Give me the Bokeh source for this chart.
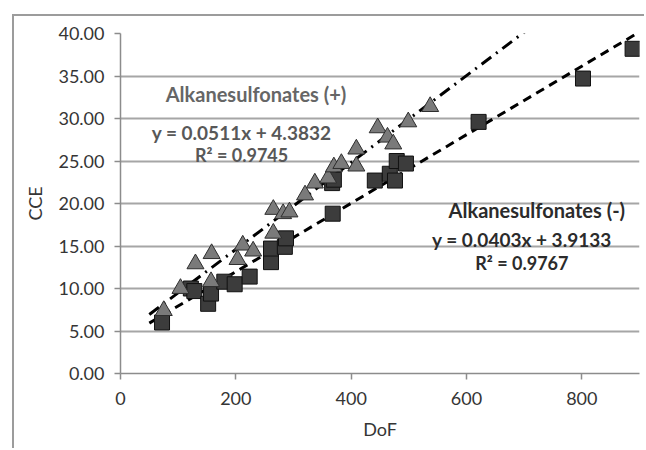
from bokeh.plotting import figure
from bokeh.models import Range1d, FixedTicker, NumeralTickFormatter, ColumnDataSource
from bokeh.core.properties import value
from bokeh.embed import file_html
from bokeh.resources import INLINE

# ---- data ----
pos_dof = [75, 104, 130, 158, 157, 203, 212, 230, 265, 265, 282, 293, 320, 337,
           360, 370, 383, 409, 409, 446, 463, 473, 499, 537]
pos_cce = [7.4, 10.0, 12.9, 14.1, 10.8, 13.4, 15.1, 14.4, 16.5, 19.3, 18.8, 19.0,
           21.0, 22.4, 23.0, 24.3, 24.7, 26.4, 24.4, 28.9, 27.8, 27.0, 29.6, 31.4]

neg_dof = [72, 122, 128, 152, 157, 180, 198, 224, 261, 261, 285, 287, 368, 367,
           370, 441, 467, 476, 479, 495, 621, 802, 888]
neg_cce = [6.0, 10.0, 9.7, 8.2, 9.4, 10.8, 10.5, 11.4, 13.1, 14.7, 14.9, 15.9,
           18.8, 22.4, 22.8, 22.7, 23.5, 22.7, 25.0, 24.7, 29.6, 34.7, 38.2]

# trendline coefficients (from the equations shown on the chart)
pos_slope, pos_intercept = 0.0511, 4.3832
neg_slope, neg_intercept = 0.0403, 3.9133
trend_x = [50, 900]

x_ticks = [0, 200, 400, 600, 800]
y_ticks = [0, 5, 10, 15, 20, 25, 30, 35, 40]

labels = ["Alkanesulfonates (+)", "y = 0.0511x + 4.3832", "R\u00b2 = 0.9745",
          "Alkanesulfonates (-)", "y = 0.0403x + 3.9133", "R\u00b2 = 0.9767"]

FONT = "Lato"

p = figure(width=632, height=434, output_backend="svg", toolbar_location=None,
           x_range=Range1d(0, 900), y_range=Range1d(0, 40),
           min_border_left=106, min_border_right=7, min_border_top=17,
           min_border_bottom=77, background_fill_color="white",
           border_fill_color="white")
p.margin = (14, 0, 0, 12)
p.styles = {"border-left": "2px solid #9c9c9c", "border-top": "2px solid #9c9c9c"}
p.outline_line_color = None

# grid
p.xgrid.visible = False
p.ygrid.grid_line_color = "#a6a6a6"
p.ygrid.grid_line_width = 2
p.yaxis.ticker = FixedTicker(ticks=y_ticks)
p.xaxis.ticker = FixedTicker(ticks=x_ticks)
p.yaxis.formatter = NumeralTickFormatter(format="0.00")

for ax in (p.xaxis[0], p.yaxis[0]):
    ax.axis_line_color = "#8c8c8c"
    ax.axis_line_width = 1.5
    ax.major_tick_line_color = "#8c8c8c"
    ax.major_tick_line_width = 1.5
    ax.major_tick_out = 6
    ax.major_tick_in = 0
    ax.minor_tick_line_color = None
    ax.major_label_text_font = FONT
    ax.major_label_text_font_size = "18px"
    ax.major_label_text_color = "#353535"
    ax.axis_label_text_font = FONT
    ax.axis_label_text_font_size = "18px"
    ax.axis_label_text_font_style = "normal"
    ax.axis_label_text_color = "#353535"

p.xaxis.axis_label = "DoF"
p.yaxis.axis_label = "CCE"
p.xaxis.major_label_standoff = 12
p.yaxis.major_label_standoff = 10
p.xaxis.axis_label_standoff = 10
p.yaxis.axis_label_standoff = 9

# trendlines
p.line(trend_x, [pos_slope * x + pos_intercept for x in trend_x],
       line_color="black", line_width=3, line_dash="12 6 2 6")
p.line(trend_x, [neg_slope * x + neg_intercept for x in trend_x],
       line_color="black", line_width=3, line_dash="9 6")

# markers
p.scatter(neg_dof, neg_cce, marker="square", size=15,
          fill_color="#3c3c3c", line_color="#111111", line_width=1)
p.scatter(pos_dof, pos_cce, marker="triangle", size=17,
          fill_color="#7a7a7a", line_color="#2e2e2e", line_width=1)

# annotations
ann = ColumnDataSource(dict(
    x=[235, 210, 210, 722, 696, 696],
    y=[32.9, 28.4, 25.7, 19.2, 15.8, 13.0],
    t=labels,
    c=["#666666", "#585858", "#585858", "#2b2b2b", "#2b2b2b", "#2b2b2b"],
    fs=["20px", "19px", "18px", "20px", "19px", "18px"],
))
p.text(x="x", y="y", text="t", source=ann, text_color="c",
       text_font=value(FONT), text_font_style="bold", text_font_size="fs",
       text_align="center", text_baseline="middle")

open("out.html", "w").write(file_html(p, INLINE))
